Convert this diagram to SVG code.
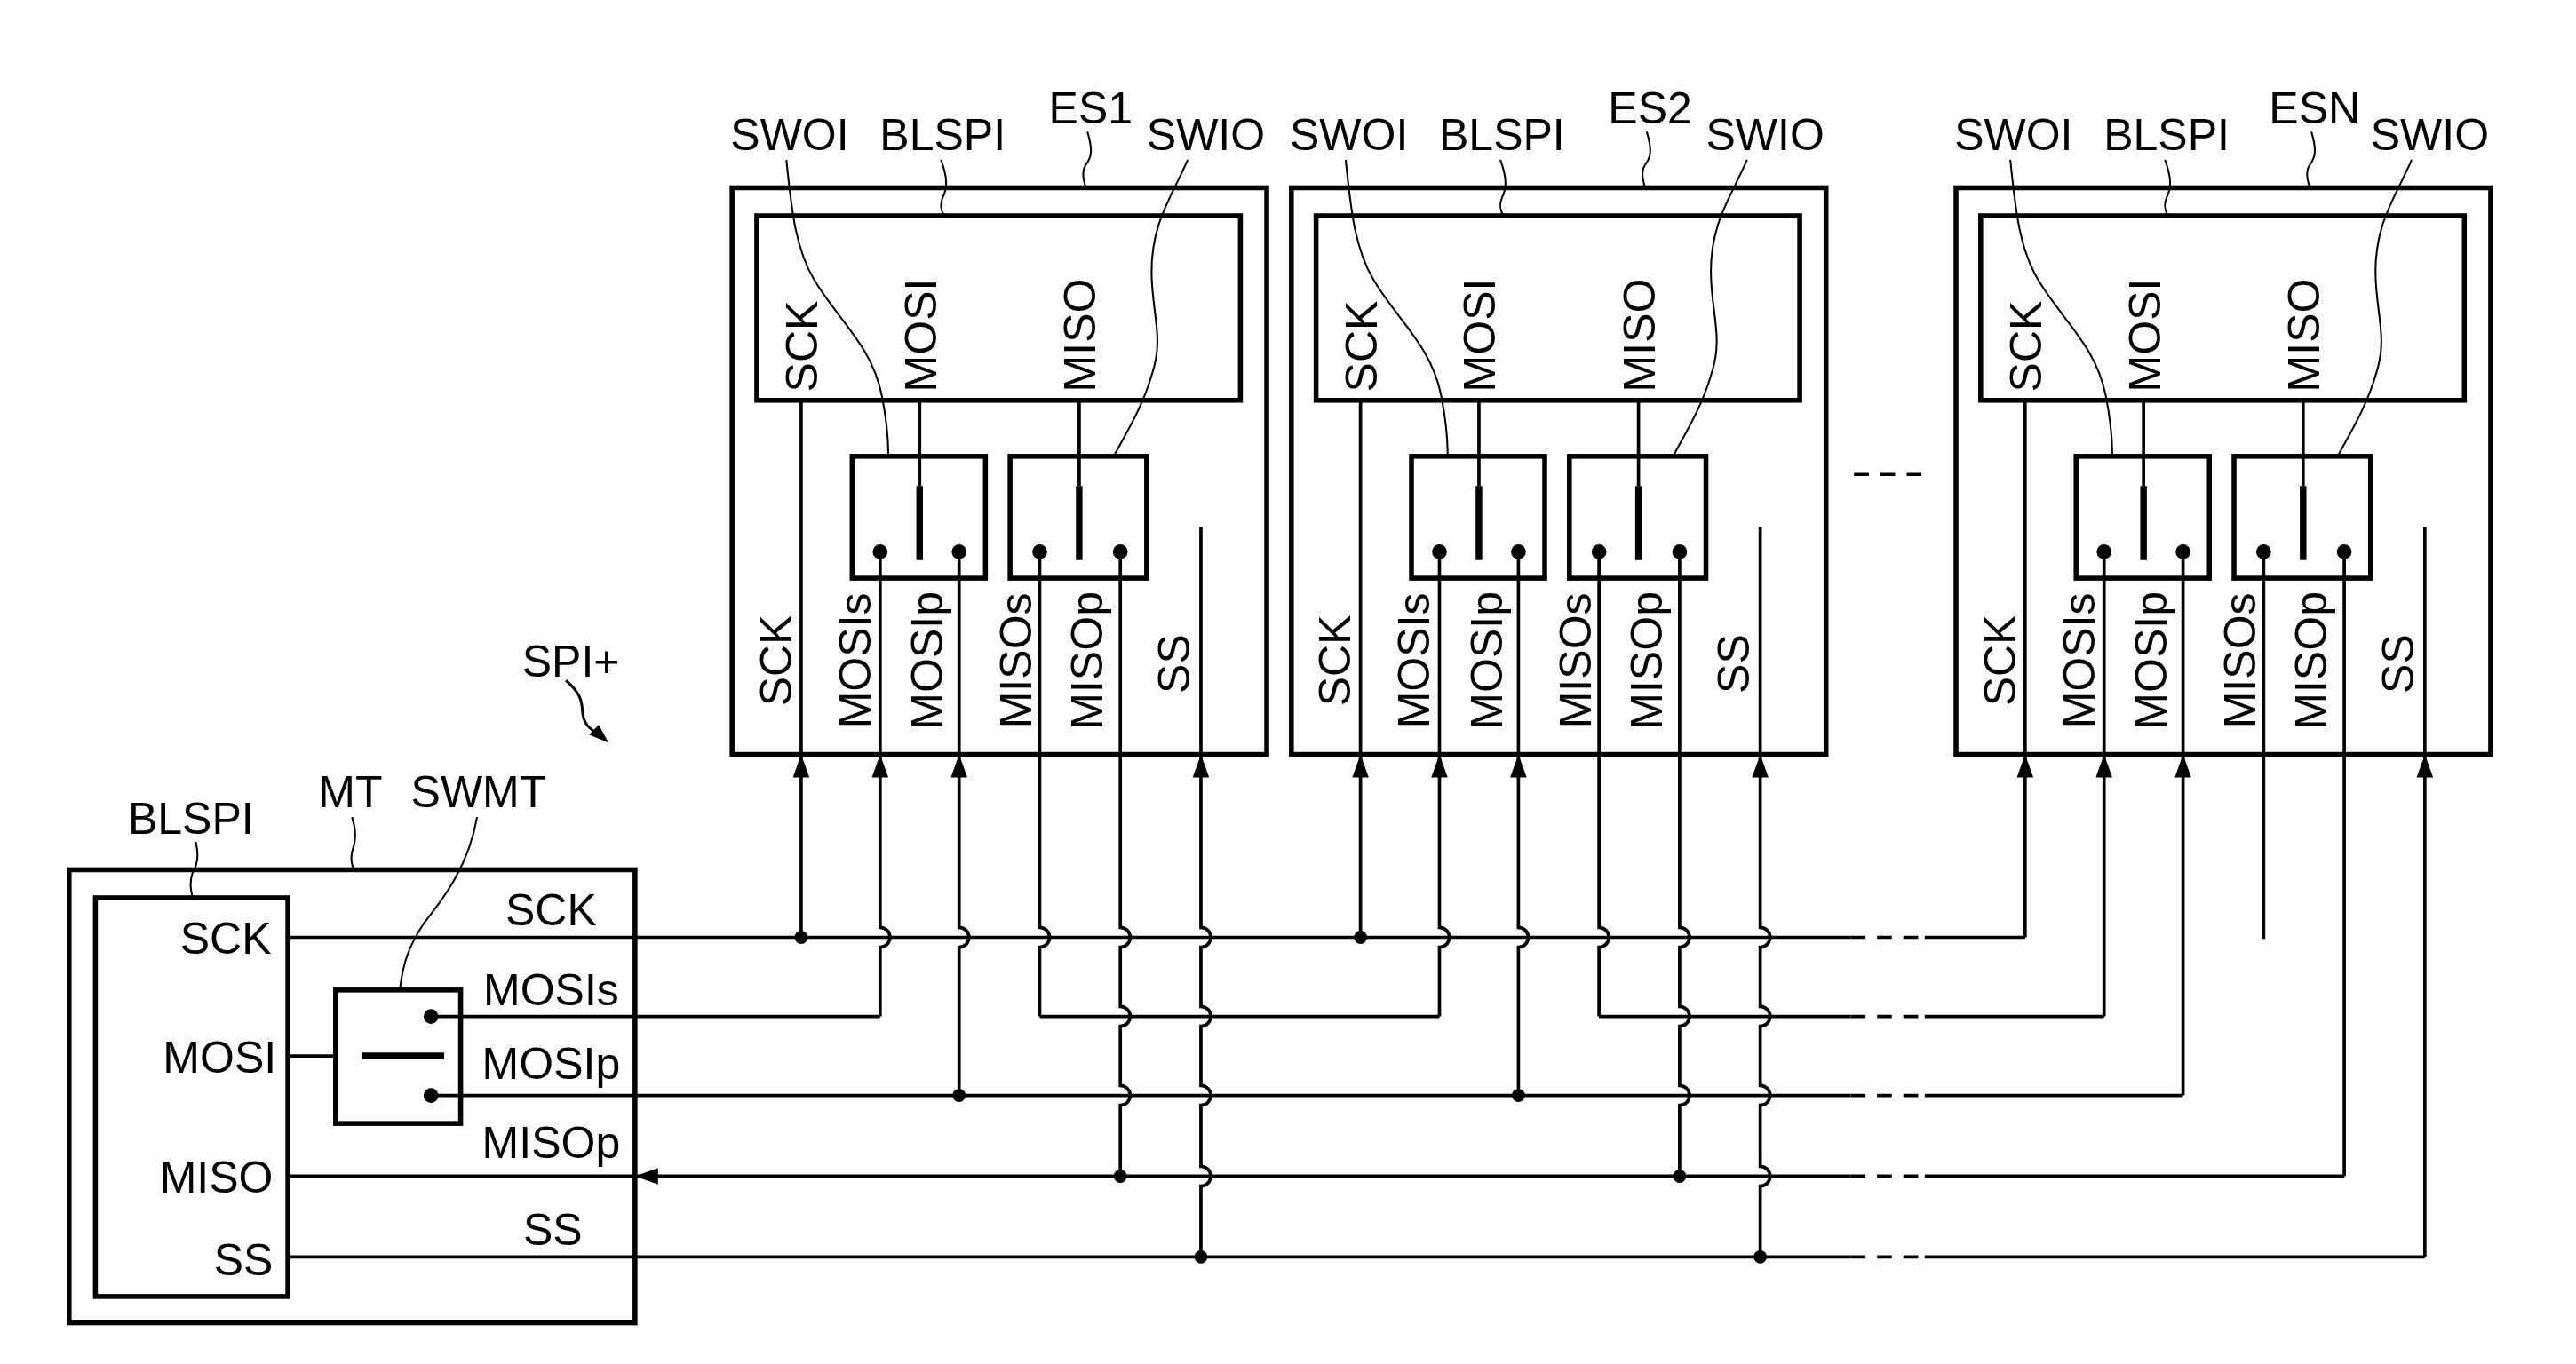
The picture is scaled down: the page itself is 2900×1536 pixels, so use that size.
<svg xmlns="http://www.w3.org/2000/svg" xmlns:xlink="http://www.w3.org/1999/xlink" width="2900" height="1536" viewBox="0 0 2900 1536">
<style>
.box{fill:none;stroke:#000;stroke-width:3;stroke-linejoin:miter}
.w{fill:none;stroke:#000;stroke-width:2}
.thk{fill:none;stroke:#000;stroke-width:4}
.ld{fill:none;stroke:#000;stroke-width:1.1}
.dash{fill:none;stroke:#000;stroke-width:2;stroke-dasharray:9 7}
.dot{fill:#000}
text{font-family:"Liberation Sans",Arial,sans-serif;font-size:27px;fill:#000}
.m{text-anchor:middle}
.e{text-anchor:end}
</style>
<defs>
<path id="ah" d="M0 0 L-5 14 L5 14 Z" fill="#000"/>
<g id="esbody">
<rect class="box" x="445" y="114" width="325" height="344"/>
<rect class="box" x="460" y="131" width="294" height="112"/>
<rect class="box" x="518" y="277" width="81" height="74"/>
<rect class="box" x="614" y="277" width="83" height="74"/>
<path class="w" d="M487 243V458M559 243V295M656 243V295M535 335V458M583 335V458M632 335V458M681 335V458M730 320V458"/>
<path class="thk" d="M559 295V340M656 295V340"/>
<circle class="dot" cx="535" cy="335" r="4.5"/><circle class="dot" cx="583" cy="335" r="4.5"/>
<circle class="dot" cx="632" cy="335" r="4.5"/><circle class="dot" cx="681" cy="335" r="4.5"/>
<use xlink:href="#ah" x="487" y="458"/><use xlink:href="#ah" x="535" y="458"/>
<use xlink:href="#ah" x="583" y="458"/><use xlink:href="#ah" x="730" y="458"/>
<text transform="translate(497,238) rotate(-90)">SCK</text>
<text transform="translate(569,238) rotate(-90)">MOSI</text>
<text transform="translate(666,238) rotate(-90)">MISO</text>
<text class="m" transform="translate(481,401) rotate(-90)">SCK</text>
<text class="m" transform="translate(529,401) rotate(-90)">MOSIs</text>
<text class="m" transform="translate(573,401) rotate(-90)">MOSIp</text>
<text class="m" transform="translate(627,401) rotate(-90)">MISOs</text>
<text class="m" transform="translate(670,401) rotate(-90)">MISOp</text>
<text class="m" transform="translate(723,403) rotate(-90)">SS</text>
<text class="m" x="480" y="91">SWOI</text>
<text class="m" x="573" y="91">BLSPI</text>
<text class="m" x="733" y="91">SWIO</text>
<path class="ld" d="M478 97C481 125 483 150 495 170C510 195 530 210 536 240C539 255 540 265 540 277"/>
<path class="ld" d="M572 97C576 108 576 114 573 120C571 125 572 128 574 131"/>
<path class="ld" d="M722 97C712 120 700 135 700 165C700 190 708 205 700 228C694 248 685 262 677 277"/>
<path class="ld" d="M661 80C664 90 664 95 660 100C657 105 659 110 660 114"/>
</g>
</defs>
<g transform="scale(1.852,1.855)">
<g id="MT">
<rect class="box" x="42" y="528" width="344" height="275"/>
<rect class="box" x="58" y="545" width="117" height="242"/>
<text class="e" x="165" y="579">SCK</text>
<text class="e" x="168" y="651">MOSI</text>
<text class="e" x="166" y="724">MISO</text>
<text class="e" x="166" y="774">SS</text>
<text class="m" x="335" y="562">SCK</text>
<text class="m" x="335" y="610">MOSIs</text>
<text class="m" x="335" y="655">MOSIp</text>
<text class="m" x="335" y="703">MISOp</text>
<text class="m" x="336" y="756">SS</text>
<text class="m" x="116" y="506">BLSPI</text>
<text class="m" x="213" y="490">MT</text>
<text class="m" x="291" y="490">SWMT</text>
<path class="ld" d="M119 511C121 520 120 525 117 530C115 536 116 540 117 545"/>
<path class="ld" d="M214 496C217 505 216 512 214 517C213 522 214 525 215 528"/>
<path class="ld" d="M290 496C285 525 270 545 258 560C248 575 245 585 243 601"/>
</g>
<g id="SWMT">
<rect class="box" x="204" y="601" width="76" height="81"/>
<path class="thk" d="M220 641H270"/>
<circle class="dot" cx="262" cy="617" r="4.5"/>
<circle class="dot" cx="262" cy="665" r="4.5"/>
</g>
<g id="ES1"><use xlink:href="#esbody"/><text class="m" x="663" y="75">ES1</text></g>
<g id="ES2"><use xlink:href="#esbody" x="340"/><text class="m" x="1003" y="75">ES2</text></g>
<g id="ESN"><use xlink:href="#esbody" x="744"/><text class="m" x="1407" y="75">ESN</text></g>
<g id="SPIplus">
<text class="m" x="347" y="411">SPI+</text>
<path class="ld" style="stroke-width:1.6" d="M344 413C352 420 354 425 354 432C355 440 358 442 364 446"/>
<path d="M370 451L358 446L364 440Z" fill="#000"/>
</g>
<g id="connectors">
<path class="w" d="M175 641H204"/>
<path class="w" d="M175 569H1125M1170 569H1231M262 617H535M632 617H875M972 617H1125M1170 617H1279M262 665H1125M1170 665H1327M175 714H1125M1170 714H1425M175 763H1125M1170 763H1474"/>
<path class="dash" d="M1125 569H1170M1125 617H1170M1125 665H1170M1125 714H1170M1125 763H1170M1127 288H1175"/>
<path class="w" d="M487 569V458
M535 617V575A6 6 0 0 0 535 563V458
M583 665V575A6 6 0 0 0 583 563V458
M632 617V575A6 6 0 0 0 632 563V458
M681 714V671A6 6 0 0 0 681 659V623A6 6 0 0 0 681 611V575A6 6 0 0 0 681 563V458
M730 763V720A6 6 0 0 0 730 708V671A6 6 0 0 0 730 659V623A6 6 0 0 0 730 611V575A6 6 0 0 0 730 563V458
M827 569V458
M875 617V575A6 6 0 0 0 875 563V458
M923 665V575A6 6 0 0 0 923 563V458
M972 617V575A6 6 0 0 0 972 563V458
M1021 714V671A6 6 0 0 0 1021 659V623A6 6 0 0 0 1021 611V575A6 6 0 0 0 1021 563V458
M1070 763V720A6 6 0 0 0 1070 708V671A6 6 0 0 0 1070 659V623A6 6 0 0 0 1070 611V575A6 6 0 0 0 1070 563V458
M1231 569V458M1279 617V458M1327 665V458M1376 570V458M1425 714V458M1474 763V458"/>
<circle class="dot" cx="487" cy="569" r="4"/><circle class="dot" cx="827" cy="569" r="4"/>
<circle class="dot" cx="583" cy="665" r="4"/><circle class="dot" cx="923" cy="665" r="4"/>
<circle class="dot" cx="681" cy="714" r="4"/><circle class="dot" cx="1021" cy="714" r="4"/>
<circle class="dot" cx="730" cy="763" r="4"/><circle class="dot" cx="1070" cy="763" r="4"/>
<path d="M386 714L400 709L400 719Z" fill="#000"/>
</g>
</g>
</svg>
